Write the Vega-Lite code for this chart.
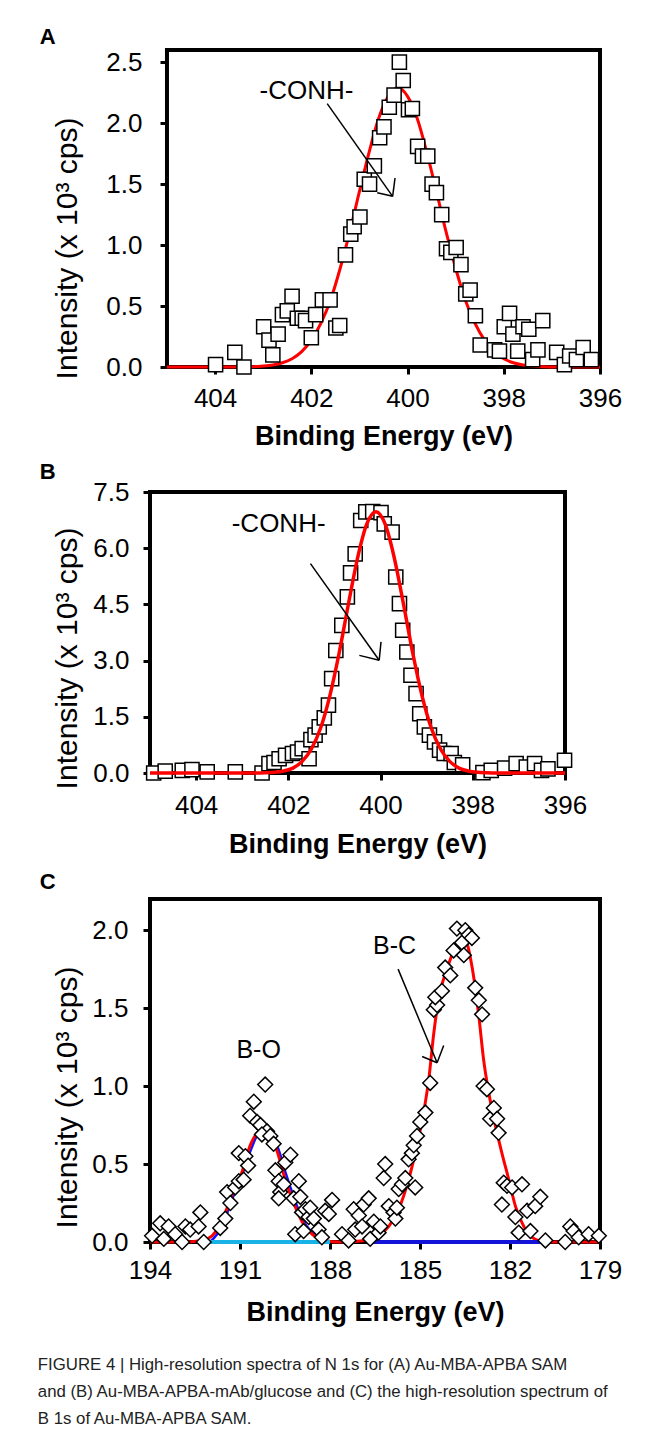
{
  "$schema": "https://vega.github.io/schema/vega-lite/v6.json",
  "background": "white",
  "padding": {"left": 37, "top": 26, "right": 5, "bottom": 5},
  "config": {
    "view": {"stroke": "black", "strokeWidth": 4},
    "axis": {"domain": false, "grid": false, "ticks": true, "tickColor": "black", "tickWidth": 3, "tickSize": 7,
      "labelFont": "Liberation Sans", "labelFontSize": 26, "labelColor": "black",
      "titleFont": "Liberation Sans", "titleColor": "black", "labelOverlap": false, "labelFlush": false},
    "axisX": {"titleFontSize": 27, "titleFontWeight": "bold"},
    "axisY": {"titleFontSize": 30, "titleFontWeight": "normal"}
  },
  "title": {
    "text": ["FIGURE 4 | High-resolution spectra of N 1s for (A) Au-MBA-APBA SAM",
             "and (B) Au-MBA-APBA-mAb/glucose and (C) the high-resolution spectrum of",
             "B 1s of Au-MBA-APBA SAM."],
    "orient": "bottom", "anchor": "start", "frame": "bounds",
    "font": "Liberation Sans", "fontSize": 16.8, "fontWeight": "normal",
    "lineHeight": 27, "offset": 30, "color": "#222222"
  },
  "datasets": {
    "aFrame": [
      {"e":405,"i":0,"e2":405,"i2":2.6},{"e":396,"i":0,"e2":396,"i2":2.6},
      {"e":405,"i":2.6,"e2":396,"i2":2.6},{"e":405,"i":0,"e2":396,"i2":0}
    ],
    "aPts": [
      {"e":403.99,"i":0.02},{"e":403.59,"i":0.12},{"e":403.40,"i":0.00},{"e":402.99,"i":0.33},{"e":402.88,"i":0.22},
      {"e":402.80,"i":0.10},{"e":402.69,"i":0.27},{"e":402.60,"i":0.43},{"e":402.50,"i":0.46},{"e":402.40,"i":0.58},
      {"e":402.29,"i":0.40},{"e":402.19,"i":0.40},{"e":402.12,"i":0.38},{"e":402.00,"i":0.24},{"e":401.91,"i":0.43},
      {"e":401.77,"i":0.55},{"e":401.61,"i":0.55},{"e":401.49,"i":0.32},{"e":401.41,"i":0.34},{"e":401.29,"i":0.92},
      {"e":401.18,"i":1.09},{"e":401.11,"i":1.15},{"e":400.99,"i":1.23},{"e":400.90,"i":1.54},{"e":400.79,"i":1.50},
      {"e":400.69,"i":1.65},{"e":400.58,"i":1.88},{"e":400.49,"i":1.97},{"e":400.38,"i":2.13},{"e":400.28,"i":2.23},
      {"e":400.17,"i":2.50},{"e":400.09,"i":2.35},{"e":399.98,"i":2.11},{"e":399.90,"i":2.12},{"e":399.79,"i":1.81},
      {"e":399.69,"i":1.73},{"e":399.58,"i":1.73},{"e":399.49,"i":1.50},{"e":399.40,"i":1.43},{"e":399.29,"i":1.25},
      {"e":399.19,"i":0.97},{"e":399.10,"i":0.94},{"e":398.99,"i":0.98},{"e":398.89,"i":0.84},{"e":398.79,"i":0.60},
      {"e":398.70,"i":0.63},{"e":398.59,"i":0.42},{"e":398.49,"i":0.18},{"e":398.19,"i":0.14},{"e":398.09,"i":0.13},
      {"e":397.99,"i":0.33},{"e":397.88,"i":0.44},{"e":397.81,"i":0.27},{"e":397.71,"i":0.13},{"e":397.60,"i":0.33},
      {"e":397.48,"i":0.31},{"e":397.40,"i":0.06},{"e":397.29,"i":0.14},{"e":397.19,"i":0.38},{"e":396.90,"i":0.12},
      {"e":396.74,"i":0.02},{"e":396.63,"i":0.09},{"e":396.49,"i":0.06},{"e":396.35,"i":0.16},{"e":396.18,"i":0.06}
    ],
    "aFit": [
      {"e":405.0,"i":0},{"e":403.6,"i":0.001},{"e":403.2,"i":0.003},{"e":403.0,"i":0.008},{"e":402.8,"i":0.017},
      {"e":402.6,"i":0.035},{"e":402.4,"i":0.068},{"e":402.2,"i":0.126},{"e":402.0,"i":0.22},{"e":401.8,"i":0.36},
      {"e":401.6,"i":0.55},{"e":401.4,"i":0.81},{"e":401.2,"i":1.11},{"e":401.0,"i":1.44},{"e":400.8,"i":1.76},
      {"e":400.6,"i":2.04},{"e":400.4,"i":2.22},{"e":400.2,"i":2.29},{"e":400.0,"i":2.22},{"e":399.8,"i":2.04},
      {"e":399.6,"i":1.76},{"e":399.4,"i":1.44},{"e":399.2,"i":1.11},{"e":399.0,"i":0.81},{"e":398.8,"i":0.55},
      {"e":398.6,"i":0.36},{"e":398.4,"i":0.22},{"e":398.2,"i":0.126},{"e":398.0,"i":0.068},{"e":397.8,"i":0.035},
      {"e":397.6,"i":0.017},{"e":397.4,"i":0.008},{"e":397.2,"i":0.003},{"e":396.8,"i":0.001},{"e":396.0,"i":0}
    ],
    "aArrow": [
      {"e":401.67,"i":2.16,"e2":400.31,"i2":1.40},
      {"e":400.31,"i":1.40,"e2":400.26,"i2":1.55},
      {"e":400.31,"i":1.40,"e2":400.63,"i2":1.43}
    ],
    "aText": [{"e":402.10,"i":2.26,"label":"-CONH-"}],
    "bPts": [
      {"e":404.92,"i":0.00},{"e":404.67,"i":0.05},{"e":404.30,"i":0.07},{"e":404.09,"i":0.09},{"e":403.76,"i":0.03},
      {"e":403.15,"i":0.03},{"e":402.57,"i":0.00},{"e":402.42,"i":0.25},{"e":402.31,"i":0.28},{"e":402.20,"i":0.38},
      {"e":402.06,"i":0.47},{"e":401.91,"i":0.52},{"e":401.80,"i":0.56},{"e":401.70,"i":0.65},{"e":401.55,"i":0.38},
      {"e":401.51,"i":0.89},{"e":401.42,"i":1.01},{"e":401.33,"i":1.23},{"e":401.22,"i":1.47},{"e":401.13,"i":1.81},
      {"e":401.06,"i":2.52},{"e":400.97,"i":3.27},{"e":400.84,"i":3.94},{"e":400.72,"i":4.70},{"e":400.65,"i":5.34},
      {"e":400.55,"i":5.85},{"e":400.43,"i":6.74},{"e":400.32,"i":6.97},{"e":400.17,"i":6.98},{"e":399.99,"i":6.95},
      {"e":399.92,"i":6.65},{"e":399.75,"i":6.43},{"e":399.67,"i":5.23},{"e":399.59,"i":4.52},{"e":399.52,"i":3.81},
      {"e":399.43,"i":3.23},{"e":399.34,"i":2.61},{"e":399.23,"i":2.12},{"e":399.15,"i":1.58},{"e":399.05,"i":1.23},
      {"e":398.94,"i":1.01},{"e":398.83,"i":0.83},{"e":398.72,"i":0.61},{"e":398.62,"i":0.52},{"e":398.47,"i":0.52},
      {"e":398.40,"i":0.28},{"e":398.22,"i":0.22},{"e":397.78,"i":0.01},{"e":397.60,"i":0.07},{"e":397.31,"i":0.13},
      {"e":397.06,"i":0.25},{"e":396.84,"i":0.16},{"e":396.66,"i":0.25},{"e":396.51,"i":0.07},{"e":396.37,"i":0.11},
      {"e":396.01,"i":0.34}
    ],
    "bFit": [
      {"e":405.0,"i":0},{"e":402.7,"i":0},{"e":402.5,"i":0.006},{"e":402.3,"i":0.019},{"e":402.1,"i":0.053},
      {"e":401.9,"i":0.13},{"e":401.7,"i":0.31},{"e":401.5,"i":0.64},{"e":401.3,"i":1.20},{"e":401.1,"i":2.06},
      {"e":400.9,"i":3.19},{"e":400.7,"i":4.49},{"e":400.5,"i":5.73},{"e":400.3,"i":6.64},{"e":400.1,"i":6.97},
      {"e":399.9,"i":6.64},{"e":399.7,"i":5.73},{"e":399.5,"i":4.49},{"e":399.3,"i":3.19},{"e":399.1,"i":2.06},
      {"e":398.9,"i":1.20},{"e":398.7,"i":0.64},{"e":398.5,"i":0.31},{"e":398.3,"i":0.13},{"e":398.1,"i":0.053},
      {"e":397.9,"i":0.019},{"e":397.7,"i":0.006},{"e":397.5,"i":0},{"e":396.0,"i":0}
    ],
    "bArrow": [
      {"e":401.52,"i":5.59,"e2":400.03,"i2":3.01},
      {"e":400.03,"i":3.01,"e2":399.99,"i2":3.50},
      {"e":400.03,"i":3.01,"e2":400.46,"i2":3.14}
    ],
    "bText": [{"e":402.21,"i":6.65,"label":"-CONH-"}],
    "cPts": [
      {"e":193.93,"i":0.04},{"e":193.66,"i":0.12},{"e":193.54,"i":0.02},{"e":193.38,"i":0.10},{"e":193.16,"i":0.05},
      {"e":192.93,"i":0.00},{"e":192.82,"i":0.10},{"e":192.66,"i":0.08},{"e":192.38,"i":0.10},{"e":192.32,"i":0.19},
      {"e":192.21,"i":0.00},{"e":191.66,"i":0.09},{"e":191.49,"i":0.15},{"e":191.43,"i":0.32},{"e":191.32,"i":0.25},
      {"e":191.16,"i":0.35},{"e":191.04,"i":0.39},{"e":191.04,"i":0.57},{"e":190.82,"i":0.55},{"e":190.73,"i":0.49},
      {"e":190.88,"i":0.40},{"e":190.66,"i":0.81},{"e":190.54,"i":0.90},{"e":190.43,"i":0.77},{"e":190.32,"i":0.75},
      {"e":190.16,"i":1.01},{"e":190.10,"i":0.71},{"e":190.27,"i":0.69},{"e":189.99,"i":0.68},{"e":189.88,"i":0.63},
      {"e":189.82,"i":0.46},{"e":189.71,"i":0.39},{"e":189.66,"i":0.32},{"e":189.54,"i":0.37},{"e":189.71,"i":0.28},
      {"e":189.49,"i":0.51},{"e":189.32,"i":0.56},{"e":189.21,"i":0.28},{"e":189.04,"i":0.39},{"e":188.99,"i":0.29},
      {"e":188.93,"i":0.19},{"e":188.82,"i":0.21},{"e":188.71,"i":0.16},{"e":188.66,"i":0.22},{"e":188.54,"i":0.15},
      {"e":188.38,"i":0.08},{"e":188.27,"i":0.03},{"e":188.16,"i":0.20},{"e":188.04,"i":0.18},{"e":187.93,"i":0.27},
      {"e":189.16,"i":0.05},{"e":188.88,"i":0.07},{"e":187.60,"i":0.05},{"e":187.38,"i":0.01},{"e":187.21,"i":0.21},
      {"e":187.16,"i":0.08},{"e":187.04,"i":0.17},{"e":186.93,"i":0.10},{"e":186.88,"i":0.24},{"e":186.71,"i":0.28},
      {"e":186.66,"i":0.02},{"e":186.54,"i":0.13},{"e":186.38,"i":0.06},{"e":186.32,"i":0.10},{"e":186.21,"i":0.41},
      {"e":186.16,"i":0.50},{"e":186.04,"i":0.23},{"e":185.88,"i":0.19},{"e":185.82,"i":0.15},{"e":185.77,"i":0.22},
      {"e":185.71,"i":0.34},{"e":185.60,"i":0.37},{"e":185.49,"i":0.41},{"e":185.38,"i":0.53},{"e":185.27,"i":0.57},
      {"e":185.21,"i":0.62},{"e":185.16,"i":0.35},{"e":185.10,"i":0.68},{"e":184.99,"i":0.77},{"e":184.82,"i":0.83},
      {"e":184.66,"i":1.02},{"e":184.54,"i":1.49},{"e":184.43,"i":1.52},{"e":184.49,"i":1.57},{"e":184.27,"i":1.61},
      {"e":184.16,"i":1.76},{"e":183.99,"i":1.71},{"e":183.88,"i":1.87},{"e":183.77,"i":2.01},{"e":183.60,"i":1.92},
      {"e":183.54,"i":1.84},{"e":183.49,"i":2.00},{"e":183.38,"i":1.97},{"e":183.27,"i":1.95},{"e":183.16,"i":1.63},
      {"e":183.04,"i":1.55},{"e":182.93,"i":1.46},{"e":182.88,"i":1.00},{"e":182.77,"i":0.98},{"e":182.66,"i":0.79},
      {"e":182.54,"i":0.86},{"e":182.43,"i":0.79},{"e":182.38,"i":0.70},{"e":182.21,"i":0.38},{"e":182.10,"i":0.36},
      {"e":182.27,"i":0.24},{"e":181.93,"i":0.35},{"e":181.82,"i":0.16},{"e":181.71,"i":0.06},{"e":181.60,"i":0.37},
      {"e":181.43,"i":0.20},{"e":181.32,"i":0.07},{"e":181.16,"i":0.23},{"e":180.99,"i":0.29},{"e":180.82,"i":0.01},
      {"e":180.16,"i":0.00},{"e":179.99,"i":0.10},{"e":179.88,"i":0.07},{"e":179.71,"i":0.03},{"e":179.38,"i":0.05},
      {"e":179.04,"i":0.04}
    ],
    "cFit": [
      {"e":194.0,"i":0},{"e":192.93,"i":0},{"e":192.27,"i":0.01},{"e":191.93,"i":0.04},{"e":191.6,"i":0.14},
      {"e":191.27,"i":0.30},{"e":190.93,"i":0.45},{"e":190.66,"i":0.62},{"e":190.32,"i":0.71},{"e":190.16,"i":0.71},
      {"e":189.93,"i":0.67},{"e":189.71,"i":0.55},{"e":189.49,"i":0.40},{"e":189.21,"i":0.25},{"e":188.93,"i":0.13},
      {"e":188.6,"i":0.05},{"e":188.16,"i":0.01},{"e":187.71,"i":0},{"e":186.82,"i":0.01},{"e":186.38,"i":0.04},
      {"e":186.04,"i":0.10},{"e":185.71,"i":0.21},{"e":185.38,"i":0.40},{"e":185.1,"i":0.62},{"e":184.88,"i":0.83},
      {"e":184.71,"i":1.04},{"e":184.54,"i":1.34},{"e":184.38,"i":1.56},{"e":184.1,"i":1.75},{"e":183.82,"i":1.89},
      {"e":183.6,"i":1.94},{"e":183.43,"i":1.91},{"e":183.27,"i":1.77},{"e":183.04,"i":1.45},{"e":182.88,"i":1.17},
      {"e":182.71,"i":0.96},{"e":182.49,"i":0.75},{"e":182.27,"i":0.57},{"e":182.04,"i":0.40},{"e":181.82,"i":0.23},
      {"e":181.54,"i":0.10},{"e":181.27,"i":0.03},{"e":180.82,"i":0},{"e":179.0,"i":0}
    ],
    "cBO": [
      {"e":192.0,"i":0},{"e":191.6,"i":0.10},{"e":191.27,"i":0.27},{"e":190.93,"i":0.43},{"e":190.66,"i":0.58},
      {"e":190.4,"i":0.69},{"e":190.2,"i":0.71},{"e":189.93,"i":0.69},{"e":189.71,"i":0.59},{"e":189.49,"i":0.45},
      {"e":189.21,"i":0.29},{"e":188.93,"i":0.15},{"e":188.6,"i":0.06},{"e":188.2,"i":0.01},{"e":188.0,"i":0}
    ],
    "cBase": [
      {"e":192.0,"i":0,"s":"lb"},{"e":188.0,"i":0,"s":"lb"},
      {"e":186.6,"i":0,"s":"db"},{"e":180.9,"i":0,"s":"db"}
    ],
    "cArrow": [
      {"e":185.73,"i":1.75,"e2":184.43,"i2":1.15},
      {"e":184.43,"i":1.15,"e2":184.21,"i2":1.26},
      {"e":184.43,"i":1.15,"e2":184.93,"i2":1.19}
    ],
    "cText": [{"e":190.38,"i":1.23,"label":"B-O"},{"e":185.85,"i":1.90,"label":"B-C"}]
  },
  "vconcat": [
    {
      "width": 450, "height": 317,
      "view": {"stroke": null},
      "title": {"text": "A", "anchor": "start", "dx": -13, "offset": -19, "baseline": "alphabetic",
        "font": "Liberation Sans", "fontSize": 22, "fontWeight": "bold", "color": "black"},
      "encoding": {
        "x": {"field": "e", "type": "quantitative", "scale": {"domain": [405.353, 396], "nice": false, "zero": false},
          "axis": {"title": "Binding Energy (eV)", "values": [404, 402, 400, 398, 396], "format": "d", "labelPadding": 11, "titlePadding": 12, "titleX": 233.5}},
        "y": {"field": "i", "type": "quantitative", "scale": {"domain": [0, 2.6], "nice": false, "zero": false},
          "axis": {"title": "Intensity (x 10³ cps)", "values": [0, 0.5, 1, 1.5, 2, 2.5], "format": ".1f", "offset": -17, "labelPadding": 18, "titlePadding": 23, "titleY": 198}}
      },
      "layer": [
        {"data": {"name": "aFrame"}, "mark": {"type": "rule", "color": "black", "strokeWidth": 4, "strokeCap": "square"},
          "encoding": {"x2": {"field": "e2"}, "y2": {"field": "i2"}}},
        {"data": {"name": "aFit"}, "mark": {"type": "line", "color": "#ff0000", "strokeWidth": 3, "interpolate": "monotone"}, "encoding": {}},
        {"data": {"name": "aPts"}, "mark": {"type": "point", "shape": "square", "size": 200, "filled": true, "fill": "white", "stroke": "black", "strokeWidth": 1.5, "opacity": 1}},
        {"data": {"name": "aArrow"}, "mark": {"type": "rule", "color": "black", "strokeWidth": 1.5}, "encoding": {"x2": {"field": "e2"}, "y2": {"field": "i2"}}},
        {"data": {"name": "aText"}, "mark": {"type": "text", "font": "Liberation Sans", "fontSize": 26, "color": "black", "align": "center", "baseline": "middle"}, "encoding": {"text": {"field": "label"}}}
      ]
    },
    {
      "width": 415, "height": 281,
      "title": {"text": "B", "anchor": "start", "dx": -13, "offset": -22, "baseline": "alphabetic",
        "font": "Liberation Sans", "fontSize": 22, "fontWeight": "bold", "color": "black"},
      "encoding": {
        "x": {"field": "e", "type": "quantitative", "scale": {"domain": [405, 396], "nice": false, "zero": false},
          "axis": {"title": "Binding Energy (eV)", "values": [404, 402, 400, 398, 396], "format": "d", "labelPadding": 12, "titlePadding": 13}},
        "y": {"field": "i", "type": "quantitative", "scale": {"domain": [0, 7.5], "nice": false, "zero": false},
          "axis": {"title": "Intensity (x 10³ cps)", "values": [0, 1.5, 3, 4.5, 6, 7.5], "format": ".1f", "labelPadding": 14, "titlePadding": 10, "titleY": 166}}
      },
      "layer": [
        {"data": {"name": "bPts"}, "mark": {"type": "point", "shape": "square", "size": 200, "filled": true, "fill": "white", "stroke": "black", "strokeWidth": 1.5, "opacity": 1}},
        {"data": {"name": "bFit"}, "mark": {"type": "line", "color": "#ff0000", "strokeWidth": 3.5, "interpolate": "monotone"}, "encoding": {}},
        {"data": {"name": "bArrow"}, "mark": {"type": "rule", "color": "black", "strokeWidth": 1.5}, "encoding": {"x2": {"field": "e2"}, "y2": {"field": "i2"}}},
        {"data": {"name": "bText"}, "mark": {"type": "text", "font": "Liberation Sans", "fontSize": 26, "color": "black", "align": "center", "baseline": "middle"}, "encoding": {"text": {"field": "label"}}}
      ]
    },
    {
      "width": 450, "height": 343,
      "title": {"text": "C", "anchor": "start", "dx": -13, "offset": -12, "baseline": "alphabetic",
        "font": "Liberation Sans", "fontSize": 22, "fontWeight": "bold", "color": "black"},
      "encoding": {
        "x": {"field": "e", "type": "quantitative", "scale": {"domain": [194, 179], "nice": false, "zero": false},
          "axis": {"title": "Binding Energy (eV)", "values": [194, 191, 188, 185, 182, 179], "format": "d", "labelPadding": 8, "titlePadding": 16}},
        "y": {"field": "i", "type": "quantitative", "scale": {"domain": [0, 2.2], "nice": false, "zero": false},
          "axis": {"title": "Intensity (x 10³ cps)", "values": [0, 0.5, 1, 1.5, 2], "format": ".1f", "labelPadding": 15, "titlePadding": 9, "titleY": 198}}
      },
      "layer": [
        {"data": {"name": "cBO"}, "mark": {"type": "line", "color": "#1010ff", "strokeWidth": 2.5, "interpolate": "monotone"}, "encoding": {}},
        {"data": {"name": "cFit"}, "mark": {"type": "line", "color": "#ff0000", "strokeWidth": 3, "interpolate": "monotone"}, "encoding": {}},
        {"data": {"name": "cBase"}, "mark": {"type": "line", "strokeWidth": 4},
          "encoding": {"color": {"field": "s", "type": "nominal", "scale": {"domain": ["lb", "db"], "range": ["#19b2e6", "#1212d8"]}, "legend": null}}},
        {"data": {"name": "cPts"}, "mark": {"type": "point", "shape": "diamond", "size": 220, "filled": true, "fill": "white", "stroke": "black", "strokeWidth": 1.5, "opacity": 1}},
        {"data": {"name": "cArrow"}, "mark": {"type": "rule", "color": "black", "strokeWidth": 1.5}, "encoding": {"x2": {"field": "e2"}, "y2": {"field": "i2"}}},
        {"data": {"name": "cText"}, "mark": {"type": "text", "font": "Liberation Sans", "fontSize": 25, "color": "black", "align": "center", "baseline": "middle"}, "encoding": {"text": {"field": "label"}}}
      ]
    }
  ],
  "spacing": 10
}
